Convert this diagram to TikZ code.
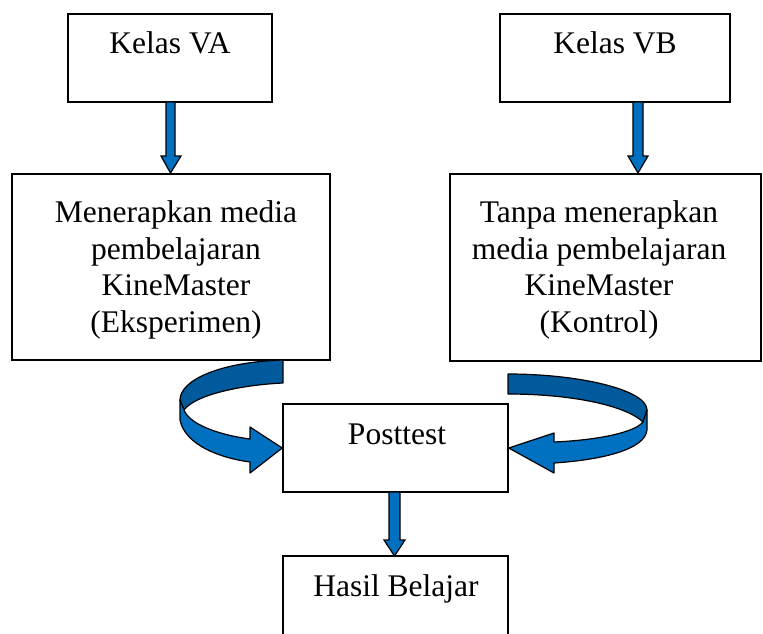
\documentclass[tikz,border=0pt]{standalone}
\usepackage{fontspec}
\setmainfont{Liberation Serif}
\definecolor{arrlight}{RGB}{0,112,192}
\definecolor{arrdark}{RGB}{0,90,156}
\begin{document}
\begin{tikzpicture}[x=1pt,y=-1pt,
  boxshape/.style={draw=black,line width=1.5pt,fill=white},
  boxtext/.style={font=\fontsize{31.5}{36.5}\selectfont,align=center,inner sep=0pt},
  arrowfill/.style={draw=black,line width=1.2pt,fill=arrlight,line join=miter},
  darkfill/.style={draw=black,line width=1.2pt,fill=arrdark,line join=round}]
\useasboundingbox (0,0) rectangle (763,634);
% boxes
\node[boxshape,minimum width=204pt,minimum height=88pt,inner sep=0pt] (va) at (170,58) {};
\node[boxshape,minimum width=230pt,minimum height=88pt,inner sep=0pt] (vb) at (615,58) {};
\node[boxshape,minimum width=318pt,minimum height=186pt,inner sep=0pt] (eks) at (171,267) {};
\node[boxshape,minimum width=311pt,minimum height=187pt,inner sep=0pt] (kon) at (605.5,267.5) {};
\node[boxshape,minimum width=225pt,minimum height=88pt,inner sep=0pt] (post) at (395.5,448) {};
\node[boxshape,minimum width=225pt,minimum height=100pt,inner sep=0pt] (hasil) at (395.5,606) {};
% texts
\node[boxtext,anchor=base] (tva) at (170,54) {Kelas VA};
\node[boxtext,anchor=base] (tvb) at (615,54) {Kelas VB};
\node[boxtext] (teks) at (176,270) {Menerapkan media\\pembelajaran\\KineMaster\\(Eksperimen)};
\node[boxtext] (tkon) at (599,270) {Tanpa menerapkan\\media pembelajaran\\KineMaster\\(Kontrol)};
\node[boxtext,anchor=base] (tpost) at (397,444) {Posttest};
\node[boxtext,anchor=base] (thasil) at (396,596) {Hasil Belajar};
% straight arrows
\draw[arrowfill] (166,102) -- (175,102) -- (175,156) -- (181,156) -- (170.5,173) -- (161,156) -- (166,156) -- cycle;
\draw[arrowfill] (633,102) -- (643,102) -- (643,156) -- (648,156) -- (638,173) -- (628,156) -- (633,156) -- cycle;
\draw[arrowfill] (389,492) -- (400,492) -- (400,540) -- (405,540) -- (394.5,556) -- (384,540) -- (389,540) -- cycle;
% left curved arrow
\draw[darkfill] (283,360) .. controls (220,362) and (180,380) .. (180,400)
  -- (184,410) .. controls (195,395) and (240,385) .. (283,383) -- cycle;
\draw[arrowfill,line join=round] (180,400) -- (180,420) .. controls (185,445) and (220,458) .. (250,462)
  -- (250,473) -- (post.west) -- (250,427) -- (250,439)
  .. controls (220,435) and (190,425) .. (184,410) -- cycle;
% right curved arrow
\draw[darkfill] (508,374) .. controls (580,374) and (647,390) .. (647,410)
  -- (643,422) .. controls (625,405) and (570,394) .. (508,394) -- cycle;
\draw[arrowfill,line join=round] (647,410) -- (647,430) .. controls (645,450) and (600,460) .. (554,463)
  -- (554,473) -- (post.east) -- (554,433) -- (554,442)
  .. controls (600,440) and (635,432) .. (643,422) -- cycle;
\end{tikzpicture}
\end{document}
